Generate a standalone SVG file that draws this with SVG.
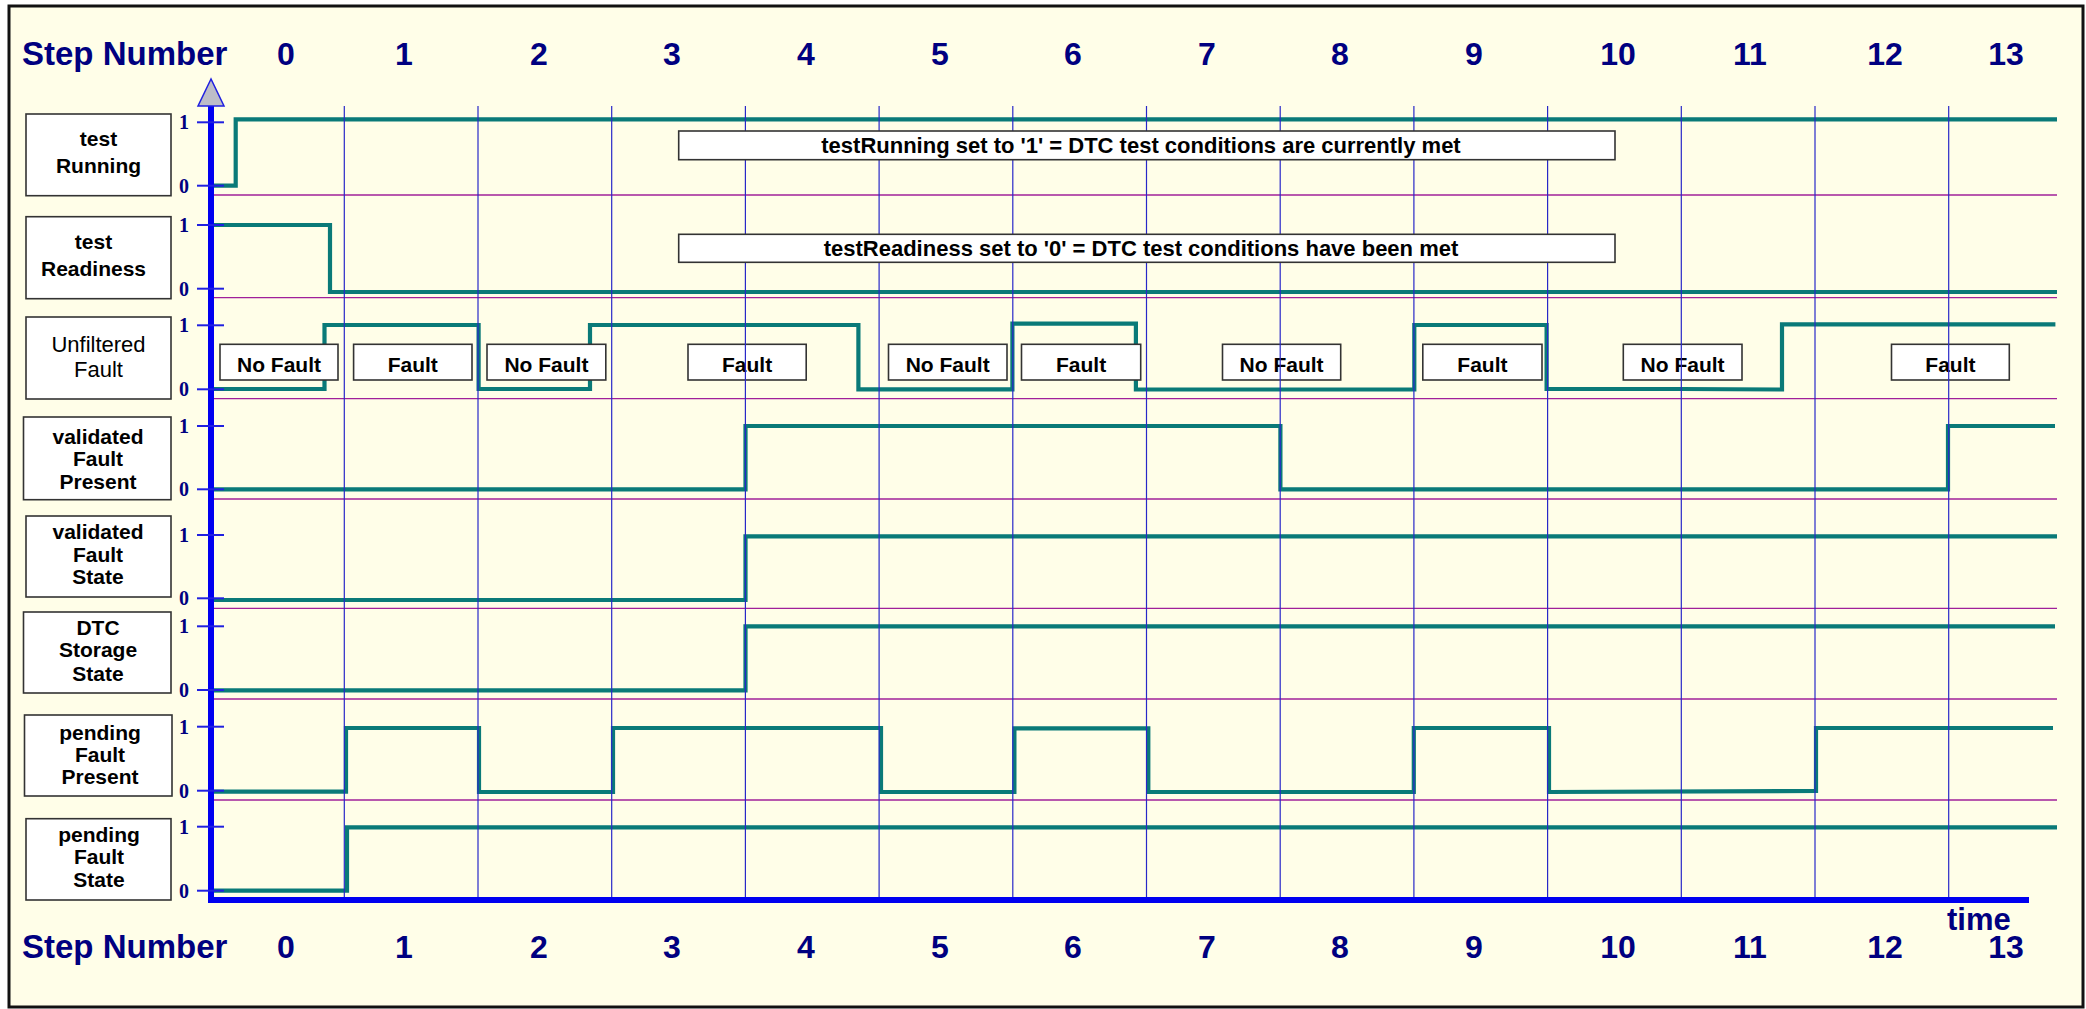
<svg xmlns="http://www.w3.org/2000/svg" width="2086" height="1009" viewBox="0 0 2086 1009">
<defs>
<style>
.frame{fill:#FFFEE8;stroke:#111;stroke-width:3}
.step{font-family:"Liberation Sans",Arial,sans-serif;font-weight:bold;font-size:32px;fill:#000080;text-anchor:middle}
.sn{text-anchor:start;font-size:33px}
.lbl{fill:#fff;stroke:#333;stroke-width:1.6}
.lt{font-family:"Liberation Sans",Arial,sans-serif;font-weight:bold;font-size:21px;fill:#000;text-anchor:middle}
.ltn{font-family:"Liberation Sans",Arial,sans-serif;font-size:22px;fill:#000;text-anchor:middle}
.tk{font-family:"Liberation Serif","Times New Roman",serif;font-weight:bold;font-size:20px;fill:#000080;text-anchor:middle}
.tick{stroke:#2020E0;stroke-width:2}
.vg{stroke:#2828C8;stroke-width:1.2}
.hg{stroke:#A0209A;stroke-width:1.3}
.sig{fill:none;stroke:#0A7A78;stroke-width:4.2;stroke-linejoin:miter}
.ann{font-family:"Liberation Sans",Arial,sans-serif;font-weight:bold;font-size:22px;fill:#000;text-anchor:middle}
</style>
</defs>
<rect x="0" y="0" width="2086" height="1009" fill="#ffffff"/>
<rect class="frame" x="9" y="6" width="2074" height="1001"/>

<g id="header-top">
<text class="step sn" x="22" y="65">Step Number</text>
<text class="step" x="286" y="65">0</text>
<text class="step" x="404" y="65">1</text>
<text class="step" x="539" y="65">2</text>
<text class="step" x="672" y="65">3</text>
<text class="step" x="806" y="65">4</text>
<text class="step" x="940" y="65">5</text>
<text class="step" x="1073" y="65">6</text>
<text class="step" x="1207" y="65">7</text>
<text class="step" x="1340" y="65">8</text>
<text class="step" x="1474" y="65">9</text>
<text class="step" x="1618" y="65">10</text>
<text class="step" x="1750" y="65">11</text>
<text class="step" x="1885" y="65">12</text>
<text class="step" x="2006" y="65">13</text>
</g>

<g id="header-bottom">
<text class="step sn" x="22" y="958">Step Number</text>
<text class="step" x="286" y="958">0</text>
<text class="step" x="404" y="958">1</text>
<text class="step" x="539" y="958">2</text>
<text class="step" x="672" y="958">3</text>
<text class="step" x="806" y="958">4</text>
<text class="step" x="940" y="958">5</text>
<text class="step" x="1073" y="958">6</text>
<text class="step" x="1207" y="958">7</text>
<text class="step" x="1340" y="958">8</text>
<text class="step" x="1474" y="958">9</text>
<text class="step" x="1618" y="958">10</text>
<text class="step" x="1750" y="958">11</text>
<text class="step" x="1885" y="958">12</text>
<text class="step" x="2006" y="958">13</text>
<text class="step" x="1947" y="930" style="text-anchor:start;font-size:31px">time</text>
</g>

<g id="row-separators">
<line class="hg" x1="211" y1="195" x2="2057" y2="195"/>
<line class="hg" x1="211" y1="297.7" x2="2057" y2="297.7"/>
<line class="hg" x1="211" y1="398.7" x2="2057" y2="398.7"/>
<line class="hg" x1="211" y1="499" x2="2057" y2="499"/>
<line class="hg" x1="211" y1="608.3" x2="2057" y2="608.3"/>
<line class="hg" x1="211" y1="699" x2="2057" y2="699"/>
<line class="hg" x1="211" y1="800" x2="2057" y2="800"/>
</g>

<g id="connectors">
<path class="sig" d="M211,185.7 H235.7 V119.3 H2057"/>
<path class="sig" d="M211,225 H330 V292 H2057"/>
<path class="sig" d="M211,389 H324.5 V325 H478.6 V389 H590 V325 H858.4 V389.3 H1012.4 V323.7 H1135.9 V389.5 H1414.3 V325 H1546.6 V389 H1681 L1782,389.5 V324.3 H2055.4"/>
<path class="sig" d="M211,489.3 H745.5 V426 H1280.4 V489.3 H1948 V426 H2055"/>
<path class="sig" d="M211,600 H745.5 V536.3 H2057"/>
<path class="sig" d="M211,690.3 H745.5 V626.3 H2055"/>
<path class="sig" d="M211,791.7 H346 V728 H479 V792 H613 V728 H881 V792 H1014.4 V728.3 H1148.3 V792 H1413.8 V728 H1549 V792 L1816,791 V728 H2053"/>
<path class="sig" d="M211,890.7 H347 V827.3 H2057"/>
</g>

<g id="fault-labels">
<g id="uf-0"><rect class="lbl" x="220" y="344.3" width="118" height="35.7"/><text class="lt" x="279" y="371.7">No Fault</text></g>
<g id="uf-1"><rect class="lbl" x="353.6" y="344.3" width="118.4" height="35.7"/><text class="lt" x="412.8" y="371.7">Fault</text></g>
<g id="uf-2"><rect class="lbl" x="487" y="344.3" width="118.8" height="35.7"/><text class="lt" x="546.4" y="371.7">No Fault</text></g>
<g id="uf-3"><rect class="lbl" x="688" y="344.3" width="118.2" height="35.7"/><text class="lt" x="747.1" y="371.7">Fault</text></g>
<g id="uf-4"><rect class="lbl" x="888.5" y="344.3" width="118.5" height="35.7"/><text class="lt" x="947.7" y="371.7">No Fault</text></g>
<g id="uf-5"><rect class="lbl" x="1021.5" y="344.3" width="119.2" height="35.7"/><text class="lt" x="1081.1" y="371.7">Fault</text></g>
<g id="uf-6"><rect class="lbl" x="1222.5" y="344.3" width="118.2" height="35.7"/><text class="lt" x="1281.6" y="371.7">No Fault</text></g>
<g id="uf-7"><rect class="lbl" x="1422.8" y="344.3" width="119.2" height="35.7"/><text class="lt" x="1482.4" y="371.7">Fault</text></g>
<g id="uf-8"><rect class="lbl" x="1623.3" y="344.3" width="118.7" height="35.7"/><text class="lt" x="1682.6" y="371.7">No Fault</text></g>
<g id="uf-9"><rect class="lbl" x="1891.5" y="344.3" width="117.8" height="35.7"/><text class="lt" x="1950.4" y="371.7">Fault</text></g>
</g>

<g id="time-grid">
<line class="vg" x1="344.3" y1="106" x2="344.3" y2="900"/>
<line class="vg" x1="478" y1="106" x2="478" y2="900"/>
<line class="vg" x1="611.7" y1="106" x2="611.7" y2="900"/>
<line class="vg" x1="745.4" y1="106" x2="745.4" y2="900"/>
<line class="vg" x1="879.1" y1="106" x2="879.1" y2="900"/>
<line class="vg" x1="1012.8" y1="106" x2="1012.8" y2="900"/>
<line class="vg" x1="1146.5" y1="106" x2="1146.5" y2="900"/>
<line class="vg" x1="1280.2" y1="106" x2="1280.2" y2="900"/>
<line class="vg" x1="1413.9" y1="106" x2="1413.9" y2="900"/>
<line class="vg" x1="1547.6" y1="106" x2="1547.6" y2="900"/>
<line class="vg" x1="1681.3" y1="106" x2="1681.3" y2="900"/>
<line class="vg" x1="1815" y1="106" x2="1815" y2="900"/>
<line class="vg" x1="1948.7" y1="106" x2="1948.7" y2="900"/>
</g>

<g id="note-running">
<rect class="lbl" x="678.7" y="131" width="936.3" height="28.7"/>
<text class="ann" x="1141" y="153.3">testRunning set to '1' = DTC test conditions are currently met</text>
</g>
<g id="note-readiness">
<rect class="lbl" x="678.7" y="234.3" width="936.3" height="28"/>
<text class="ann" x="1141" y="255.7">testReadiness set to '0' = DTC test conditions have been met</text>
</g>

<g id="axes">
<line x1="211" y1="104" x2="211" y2="903" stroke="#0000F0" stroke-width="6"/>
<line x1="208" y1="900" x2="2029" y2="900" stroke="#0000F0" stroke-width="6"/>
<polygon points="211,79 198,106 224,106" fill="#BDBDC8" stroke="#2020E0" stroke-width="1.5"/>
</g>

<g id="ticks">
<line class="tick" x1="197" y1="122.3" x2="224" y2="122.3"/><text class="tk" x="184" y="129.3">1</text>
<line class="tick" x1="197" y1="185.7" x2="224" y2="185.7"/><text class="tk" x="184" y="192.7">0</text>
<line class="tick" x1="197" y1="225" x2="224" y2="225"/><text class="tk" x="184" y="232">1</text>
<line class="tick" x1="197" y1="288.7" x2="224" y2="288.7"/><text class="tk" x="184" y="295.7">0</text>
<line class="tick" x1="197" y1="325.3" x2="224" y2="325.3"/><text class="tk" x="184" y="332.3">1</text>
<line class="tick" x1="197" y1="389.3" x2="224" y2="389.3"/><text class="tk" x="184" y="396.3">0</text>
<line class="tick" x1="197" y1="426" x2="224" y2="426"/><text class="tk" x="184" y="433">1</text>
<line class="tick" x1="197" y1="489.3" x2="224" y2="489.3"/><text class="tk" x="184" y="496.3">0</text>
<line class="tick" x1="197" y1="535" x2="224" y2="535"/><text class="tk" x="184" y="542">1</text>
<line class="tick" x1="197" y1="598.3" x2="224" y2="598.3"/><text class="tk" x="184" y="605.3">0</text>
<line class="tick" x1="197" y1="626.3" x2="224" y2="626.3"/><text class="tk" x="184" y="633.3">1</text>
<line class="tick" x1="197" y1="690" x2="224" y2="690"/><text class="tk" x="184" y="697">0</text>
<line class="tick" x1="197" y1="726.7" x2="224" y2="726.7"/><text class="tk" x="184" y="733.7">1</text>
<line class="tick" x1="197" y1="790.7" x2="224" y2="790.7"/><text class="tk" x="184" y="797.7">0</text>
<line class="tick" x1="197" y1="826.7" x2="224" y2="826.7"/><text class="tk" x="184" y="833.7">1</text>
<line class="tick" x1="197" y1="890.7" x2="224" y2="890.7"/><text class="tk" x="184" y="897.7">0</text>
</g>

<g id="row-testRunning"><rect class="lbl" x="26" y="114" width="145" height="81.7"/><text class="lt" x="98.5" y="145.7">test</text><text class="lt" x="98.5" y="173.3">Running</text></g>
<g id="row-testReadiness"><rect class="lbl" x="26" y="216.7" width="145" height="82"/><text class="lt" x="93.5" y="249">test</text><text class="lt" x="93.5" y="276">Readiness</text></g>
<g id="row-unfilteredFault"><rect class="lbl" x="26" y="317" width="145" height="82"/><text class="ltn" x="98.5" y="351.7">Unfiltered</text><text class="ltn" x="98.5" y="376.7">Fault</text></g>
<g id="row-validatedFaultPresent"><rect class="lbl" x="23.5" y="417" width="147.5" height="82.7"/><text class="lt" x="98" y="444">validated</text><text class="lt" x="98" y="466.3">Fault</text><text class="lt" x="98" y="488.7">Present</text></g>
<g id="row-validatedFaultState"><rect class="lbl" x="26" y="516" width="145" height="81"/><text class="lt" x="98" y="539.3">validated</text><text class="lt" x="98" y="561.7">Fault</text><text class="lt" x="98" y="584.3">State</text></g>
<g id="row-dtcStorageState"><rect class="lbl" x="23.5" y="612" width="147.5" height="81"/><text class="lt" x="98" y="634.7">DTC</text><text class="lt" x="98" y="656.7">Storage</text><text class="lt" x="98" y="680.7">State</text></g>
<g id="row-pendingFaultPresent"><rect class="lbl" x="24.5" y="715" width="147.5" height="81"/><text class="lt" x="100" y="740">pending</text><text class="lt" x="100" y="762">Fault</text><text class="lt" x="100" y="784.3">Present</text></g>
<g id="row-pendingFaultState"><rect class="lbl" x="26" y="818.7" width="145" height="81.3"/><text class="lt" x="99" y="842.3">pending</text><text class="lt" x="99" y="864.3">Fault</text><text class="lt" x="99" y="887.3">State</text></g>
</svg>
